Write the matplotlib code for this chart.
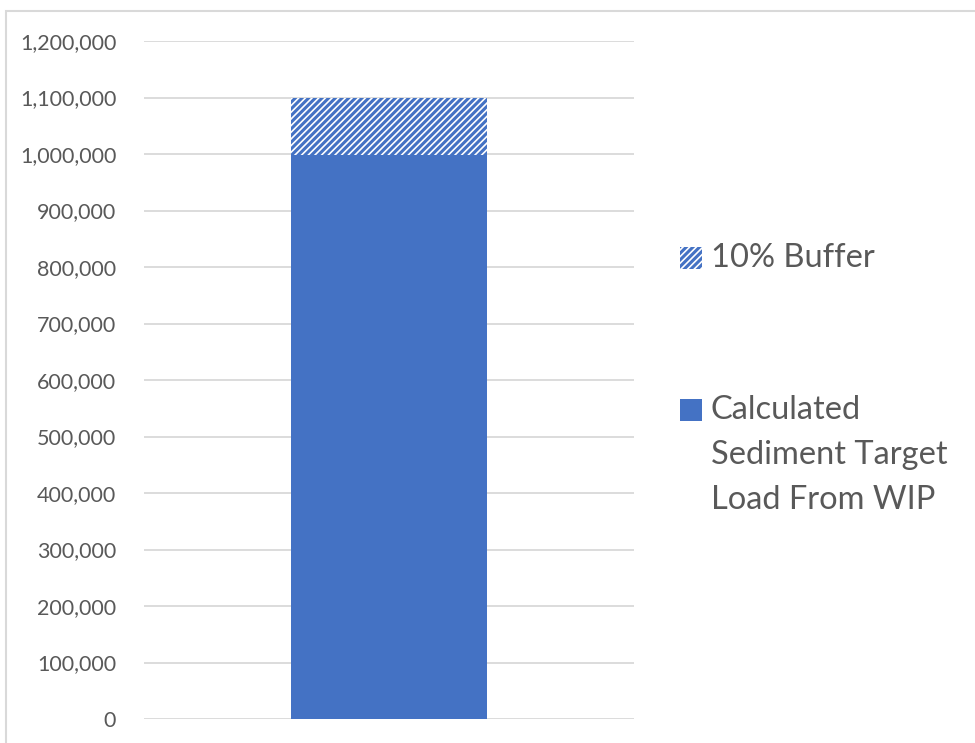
import matplotlib
matplotlib.use("Agg")
import matplotlib.pyplot as plt
from matplotlib.patches import Rectangle
from matplotlib.ticker import FuncFormatter

categories = [""]
calculated = [998000]
buffer = [102000]
series_labels = ["10% Buffer", "Calculated\nSediment Target\nLoad From WIP"]
yticks = list(range(0, 1200001, 100000))

BLUE = "#4472C4"
TXT = "#595959"
GRID = "#D9D9D9"

plt.rcParams['font.family'] = ['Lato', 'DejaVu Sans']
plt.rcParams['hatch.linewidth'] = 2.2
plt.rcParams['hatch.color'] = BLUE

W, H = 975, 743
fig = plt.figure(figsize=(W / 100, H / 100), dpi=100)
ax = fig.add_axes([144 / W, (H - 719) / H, (634 - 144) / W, (719 - 41) / H])

x = list(range(len(categories)))
ax.bar(x, calculated, width=0.402, color=BLUE, zorder=3)
ax.bar(x, buffer, bottom=calculated, width=0.402, facecolor="white",
       edgecolor=BLUE, linewidth=0, hatch="/////", zorder=3)

ax.set_xlim(-0.5, 0.5)
ax.set_ylim(0, 1200000)
ax.set_yticks(yticks)
ax.yaxis.set_major_formatter(FuncFormatter(lambda v, p: f"{int(v):,}"))
ax.set_xticks([])
ax.tick_params(axis='y', length=0, pad=20, labelsize=15.5, labelcolor=TXT)
for s in ax.spines.values():
    s.set_visible(False)
ax.grid(axis='y', color=GRID, linewidth=1.3, zorder=0)
ax.set_axisbelow(True)

# figure border
fig.patches.append(Rectangle((6 / W, -0.1), 1.2, (H - 11) / H + 0.1,
                             transform=fig.transFigure, fill=False,
                             edgecolor=GRID, linewidth=1.5))

# legend (manual)
fig.patches.append(Rectangle((680 / W, (H - 269) / H), 22 / W, 22 / H,
                             transform=fig.transFigure, facecolor="white",
                             edgecolor=BLUE, linewidth=0, hatch="/////"))
fig.text(711 / W, (H - 258) / H, series_labels[0], fontsize=23.5, color=TXT,
         va='center', ha='left')
fig.patches.append(Rectangle((680 / W, (H - 421) / H), 22 / W, 22 / H,
                             transform=fig.transFigure, facecolor=BLUE,
                             linewidth=0))
for i, line in enumerate(series_labels[1].split("\n")):
    fig.text(711 / W, (H - (410 + 45 * i)) / H, line, fontsize=23.5, color=TXT,
             va='center', ha='left')

fig.savefig("out.png", dpi=100)
